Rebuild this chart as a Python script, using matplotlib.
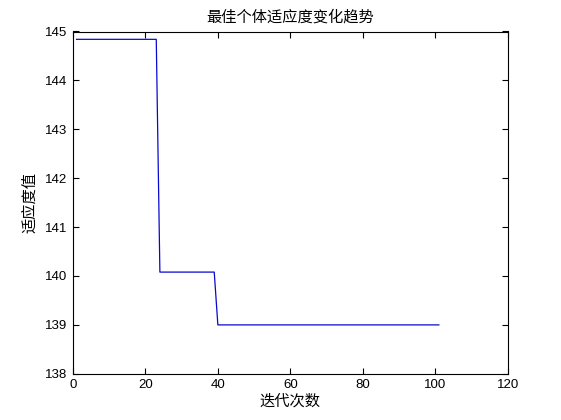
import numpy as np
import matplotlib
matplotlib.use("Agg")
import matplotlib.pyplot as plt

plt.rcParams['font.family'] = ['Liberation Sans', 'Noto Sans CJK SC', 'DejaVu Sans']

# best fitness per iteration
iters = list(range(1, 102))
seg_ends = [23, 39, 101]
seg_vals = [144.84, 140.08, 139.0]

fitness = []
start = 1
for end, val in zip(seg_ends, seg_vals):
    fitness += [val] * (end - start + 1)
    start = end + 1

fig = plt.figure(figsize=(5.61, 4.2), dpi=100)
ax = fig.add_axes([0.13, 0.11, 0.775, 0.815])
ax.plot(iters, fitness, color='#0808d0', linewidth=0.9)

ax.set_xlim(0, 120)
ax.set_ylim(138, 145)
ax.set_xticks(range(0, 121, 20))
ax.set_yticks(range(138, 146))
ax.tick_params(direction='in', top=True, right=True, labelsize=9.5, length=4, pad=4)
for s in ax.spines.values():
    s.set_linewidth(0.8)

cjk = ['Noto Sans CJK SC', 'DejaVu Sans']
ax.set_title('最佳个体适应度变化趋势', fontsize=11, family=cjk, pad=7)
ax.set_xlabel('迭代次数', fontsize=11, family=cjk, labelpad=1)
ax.set_ylabel('适应度值', fontsize=11, family=cjk, labelpad=5)

fig.savefig('out.png', dpi=100)
